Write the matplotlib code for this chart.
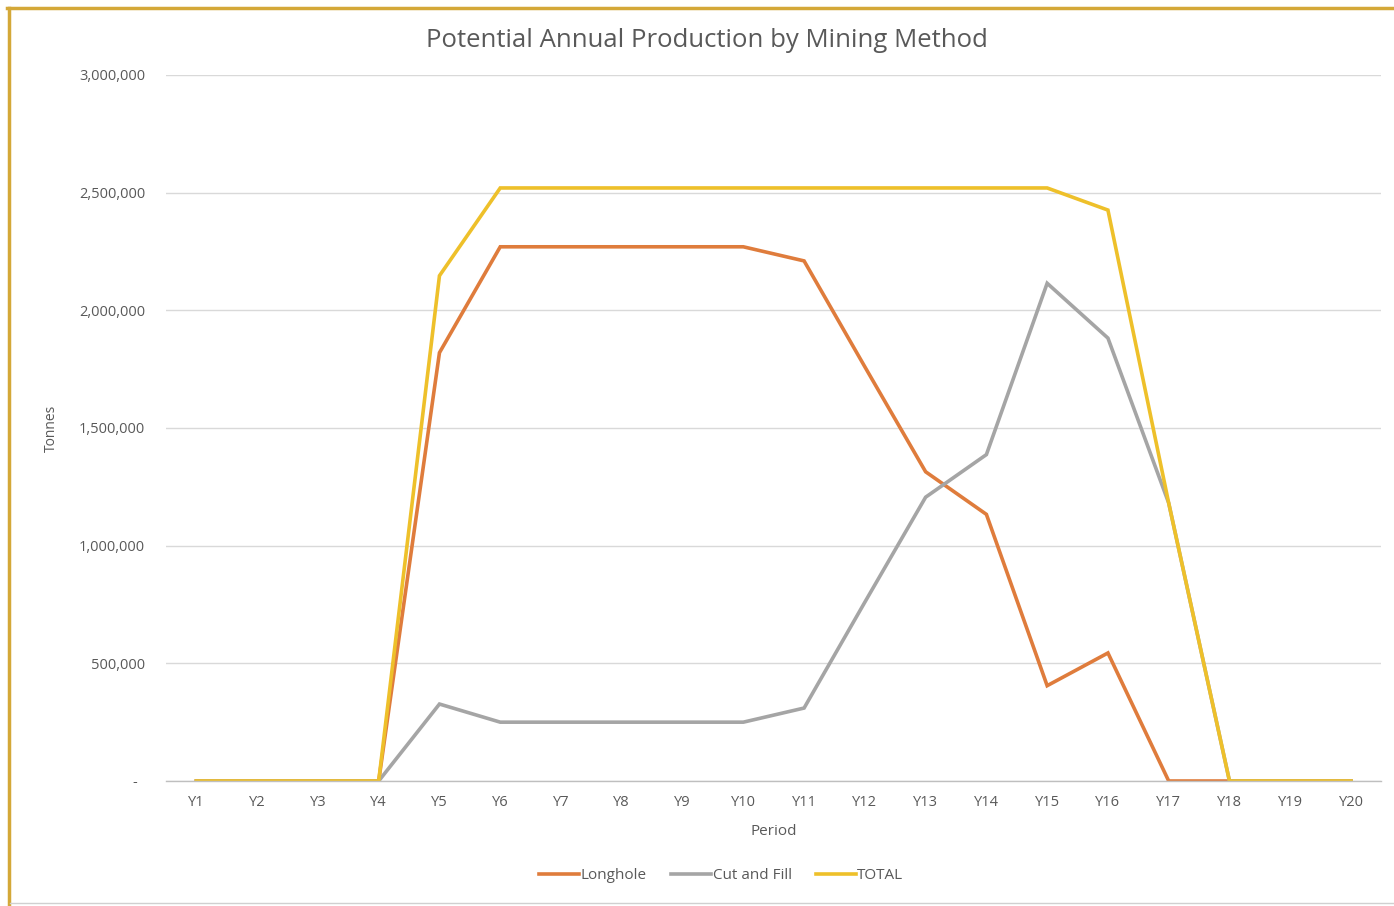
import matplotlib
matplotlib.use("Agg")
import matplotlib.pyplot as plt
from matplotlib.lines import Line2D
from matplotlib.ticker import FuncFormatter

# Annual production per period, tonnes
periods = ["Y%d" % i for i in range(1, 21)]
longhole = [0, 0, 0, 0, 1820000, 2270000, 2270000, 2270000, 2270000, 2270000,
            2210000, 1760000, 1314000, 1133000, 405000, 544000, 0, 0, 0, 0]
cut_and_fill = [0, 0, 0, 0, 327000, 250000, 250000, 250000, 250000, 250000,
                310000, 760000, 1206000, 1387000, 2115000, 1882000, 1181000, 0, 0, 0]
total = [a + b for a, b in zip(longhole, cut_and_fill)]

y_ticks = [0, 500000, 1000000, 1500000, 2000000, 2500000, 3000000]

plt.rcParams['font.family'] = ['Open Sans', 'DejaVu Sans']
txt = '#595959'

fig = plt.figure(figsize=(13.94, 9.06), dpi=100)
ax = fig.add_axes([166 / 1394, 125 / 906, 1215.4 / 1394, 706 / 906])

x = list(range(len(periods)))
ax.plot(x, longhole, color='#DF7C3C', lw=2.6, label='Longhole', solid_joinstyle='miter')
ax.plot(x, cut_and_fill, color='#A5A5A5', lw=2.6, label='Cut and Fill', solid_joinstyle='miter')
ax.plot(x, total, color='#EEC02A', lw=2.6, label='TOTAL', solid_joinstyle='miter')

ax.set_xlim(-0.5, len(periods) - 0.5)
ax.set_ylim(0, 3000000)
ax.set_xticks(x)
ax.set_xticklabels(periods)
ax.set_yticks(y_ticks)
ax.yaxis.set_major_formatter(FuncFormatter(lambda v, p: '-  ' if v == 0 else '{:,.0f}'.format(v)))
ax.tick_params(axis='both', length=0, labelsize=10.5, colors=txt)
ax.tick_params(axis='y', pad=15)
ax.tick_params(axis='x', pad=10)

ax.grid(axis='y', color='#D9D9D9', lw=1)
ax.set_axisbelow(True)
for s in ['top', 'right', 'left']:
    ax.spines[s].set_visible(False)
ax.spines['bottom'].set_color('#BFBFBF')
ax.spines['bottom'].set_linewidth(1)

ax.set_xlabel('Period', fontsize=11, color=txt, labelpad=10)
ax.set_ylabel('Tonnes', fontsize=10, color=txt)
ax.yaxis.set_label_coords(-0.088, 0.5)

fig.text(0.507, 0.955, 'Potential Annual Production by Mining Method',
         ha='center', va='center', fontsize=18.5, color=txt)

ax.legend(loc='center', bbox_to_anchor=(0.457, -0.134), ncol=3, frameon=False,
          fontsize=11, labelcolor=txt, handlelength=2.6, handletextpad=0.1,
          columnspacing=1.6)

# frame around the chart
gold = '#D4A838'
fig.add_artist(Line2D([7 / 1394, 1], [1 - 8 / 906, 1 - 8 / 906], color=gold, lw=2.5))
fig.add_artist(Line2D([8.5 / 1394, 8.5 / 1394], [1 - 8 / 906, 1 - 904 / 906], color=gold, lw=2.5))
fig.add_artist(Line2D([10 / 1394, 1], [1 - 903 / 906, 1 - 903 / 906], color='#D0D0D0', lw=1))

fig.savefig('out.png', dpi=100)
